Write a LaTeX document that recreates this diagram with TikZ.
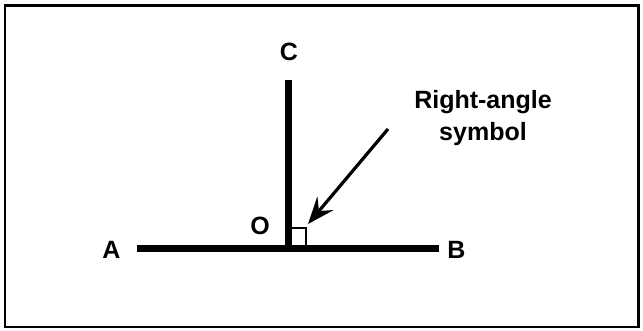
\documentclass[tikz,border=0pt]{standalone}
\usepackage{fontspec}
\setmainfont{Liberation Sans}
\usetikzlibrary{arrows.meta}
\begin{document}
\begin{tikzpicture}[x=1pt,y=-1pt,
  lbl/.style={anchor=base,inner sep=0pt,font=\fontsize{25}{32}\selectfont\bfseries},
  thickline/.style={line width=6.5pt},
  pointer/.style={line width=3.2pt,-{Stealth[length=27pt,width=21pt,inset=10pt]}},
  sq/.style={line width=2.5pt}]
\useasboundingbox (0,0) rectangle (643,330);
\draw[line width=2.6pt] (5,5.5) rectangle (638.5,327);
% points
\coordinate (Apt) at (137,248.5);
\coordinate (Bpt) at (439,248.5);
\coordinate (Cpt) at (288.5,80);
\coordinate (Opt) at (288.5,248.5);
\coordinate (sqA) at (288.5,228);
\coordinate (sqB) at (306,228);
\coordinate (sqC) at (306,248.5);
\coordinate (arrS) at (388,129);
\coordinate (arrE) at (308,224);
% labels
\node[lbl] (C) at (289,60) {C};
\node[lbl] (A) at (111.5,258) {A};
\node[lbl] (B) at (456.5,258) {B};
\node[lbl] (O) at (260,234) {O};
\node[lbl,align=center] (txt) at (483,140) {Right-angle\\symbol};
% lines
\draw[thickline] (Apt) -- (Bpt);
\draw[thickline] (Cpt) -- (Opt);
\draw[sq] (sqA) -- (sqB) -- (sqC);
\draw[pointer] (arrS) -- (arrE);
\end{tikzpicture}
\end{document}
